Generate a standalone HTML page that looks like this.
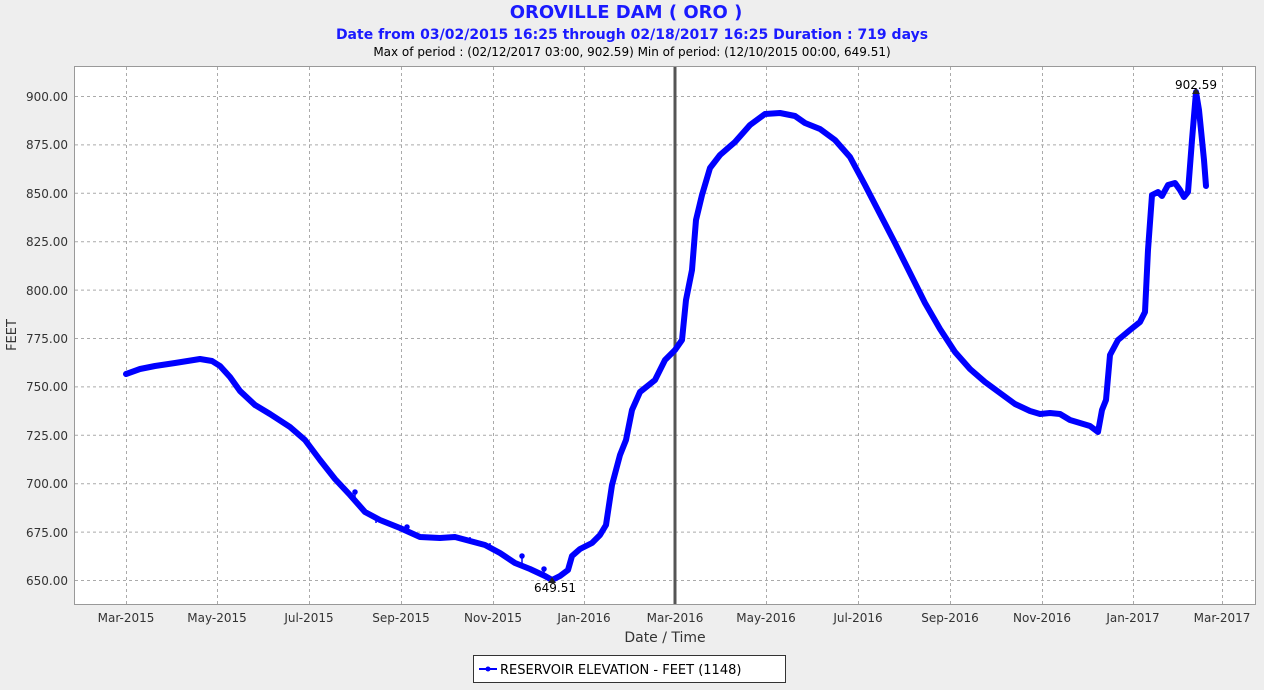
<!DOCTYPE html><html><head><style>body{margin:0;background:#eeeeee;font-family:"DejaVu Sans","Liberation Sans",sans-serif}</style></head><body>
<svg width="1264" height="686" xmlns="http://www.w3.org/2000/svg" font-family="DejaVu Sans, Liberation Sans, sans-serif">
<rect width="1264" height="686" fill="#eeeeee"/>
<text x="626" y="18" text-anchor="middle" font-size="18" font-weight="bold" fill="#1a1aff">OROVILLE DAM ( ORO )</text>
<text x="632" y="39" text-anchor="middle" font-size="14" font-weight="bold" fill="#1a1aff">Date from 03/02/2015 16:25 through 02/18/2017 16:25 Duration : 719 days</text>
<text x="632" y="56" text-anchor="middle" font-size="12" fill="#000">Max of period : (02/12/2017 03:00, 902.59)  Min of period: (12/10/2015 00:00,  649.51)</text>
<rect x="74.5" y="66.5" width="1181" height="538" fill="#fff" stroke="#999"/>
<g stroke="#aaa" stroke-dasharray="3,3" stroke-width="1">
<line x1="75" x2="1255" y1="96.5" y2="96.5"/><line x1="75" x2="1255" y1="144.9" y2="144.9"/><line x1="75" x2="1255" y1="193.3" y2="193.3"/><line x1="75" x2="1255" y1="241.7" y2="241.7"/><line x1="75" x2="1255" y1="290.1" y2="290.1"/><line x1="75" x2="1255" y1="338.5" y2="338.5"/><line x1="75" x2="1255" y1="386.9" y2="386.9"/><line x1="75" x2="1255" y1="435.3" y2="435.3"/><line x1="75" x2="1255" y1="483.7" y2="483.7"/><line x1="75" x2="1255" y1="532.1" y2="532.1"/><line x1="75" x2="1255" y1="580.5" y2="580.5"/>
<line y1="67" y2="604" x1="126.5" x2="126.5"/><line y1="67" y2="604" x1="217.5" x2="217.5"/><line y1="67" y2="604" x1="309.5" x2="309.5"/><line y1="67" y2="604" x1="401.5" x2="401.5"/><line y1="67" y2="604" x1="493.5" x2="493.5"/><line y1="67" y2="604" x1="584.5" x2="584.5"/><line y1="67" y2="604" x1="766.5" x2="766.5"/><line y1="67" y2="604" x1="858.5" x2="858.5"/><line y1="67" y2="604" x1="950.5" x2="950.5"/><line y1="67" y2="604" x1="1042.5" x2="1042.5"/><line y1="67" y2="604" x1="1133.5" x2="1133.5"/><line y1="67" y2="604" x1="1222.5" x2="1222.5"/>
</g>
<line x1="675" x2="675" y1="67" y2="604" stroke="#555" stroke-width="3"/>
<g font-size="12" fill="#333" text-anchor="end">
<text x="68" y="101">900.00</text><text x="68" y="149">875.00</text><text x="68" y="198">850.00</text><text x="68" y="246">825.00</text><text x="68" y="295">800.00</text><text x="68" y="343">775.00</text><text x="68" y="391">750.00</text><text x="68" y="440">725.00</text><text x="68" y="488">700.00</text><text x="68" y="537">675.00</text><text x="68" y="585">650.00</text>
</g>
<g font-size="12" fill="#333" text-anchor="middle">
<text x="126" y="622">Mar-2015</text><text x="217" y="622">May-2015</text><text x="309" y="622">Jul-2015</text><text x="401" y="622">Sep-2015</text><text x="493" y="622">Nov-2015</text><text x="584" y="622">Jan-2016</text><text x="675" y="622">Mar-2016</text><text x="766" y="622">May-2016</text><text x="858" y="622">Jul-2016</text><text x="950" y="622">Sep-2016</text><text x="1042" y="622">Nov-2016</text><text x="1133" y="622">Jan-2017</text><text x="1222" y="622">Mar-2017</text>
</g>
<text x="665" y="642" text-anchor="middle" font-size="14" fill="#333">Date / Time</text>
<text transform="translate(16,335) rotate(-90)" text-anchor="middle" font-size="13" fill="#333">FEET</text>
<polyline fill="none" stroke="#0000ff" stroke-width="6" stroke-linejoin="round" stroke-linecap="round" points="126,374 140,369 155,366 175,363 200,359 212,361 220,366 230,377 240,391 255,405 270,414 290,427 305,440 320,460 335,479 350,495 365,512 380,520 400,528 420,537 440,538 455,537 470,541 485,545 500,553 515,563 530,569 545,576 552,580 560,576 568,570 572,556 580,549 592,543 600,535 606,525 612,485 620,455 626,440 632,410 640,392 655,380 665,360 675,350 682,340 686,300 692,270 696,220 702,195 710,168 720,155 735,142 750,125 765,114 780,113 795,116 805,123 820,129 835,140 850,157 865,185 880,214 895,243 910,273 925,303 940,329 955,352 970,369 985,382 1000,393 1015,404 1030,411 1040,414 1050,413 1060,414 1070,420 1080,423 1090,426 1098,432 1102,410 1106,400 1110,355 1118,340 1130,330 1140,322 1145,312 1148,250 1152,195 1158,192 1162,196 1168,185 1175,183 1180,190 1184,197 1188,192 1192,140 1196,92 1199,110 1204,160 1206,186"/>
<g stroke="#0000ff" stroke-width="1.5" fill="#0000ff"><line x1="355" y1="492" x2="355" y2="500"/><circle cx="355" cy="492" r="2"/><line x1="376" y1="518" x2="376" y2="523"/><circle cx="376" cy="518" r="2"/><line x1="407" y1="527" x2="407" y2="532"/><circle cx="407" cy="527" r="2"/><line x1="470" y1="537" x2="470" y2="541"/><line x1="490" y1="543" x2="490" y2="547"/><line x1="522" y1="556" x2="522" y2="565"/><circle cx="522" cy="556" r="2"/><line x1="544" y1="569" x2="544" y2="576"/><circle cx="544" cy="569" r="2"/></g>
<path d="M548,583 l4,-6 l4,6z M1192,94 l4,-6 l4,6z" fill="#222"/>
<text x="555" y="592" text-anchor="middle" font-size="12" fill="#000">649.51</text>
<text x="1196" y="89" text-anchor="middle" font-size="12" fill="#000">902.59</text>
<rect x="473.5" y="655.5" width="312" height="27" fill="#fff" stroke="#333"/>
<line x1="479" x2="497" y1="669" y2="669" stroke="#0000ff" stroke-width="2"/><circle cx="488" cy="669" r="2.5" fill="#0000ff"/>
<text x="500" y="674" font-size="13" fill="#000">RESERVOIR ELEVATION - FEET (1148)</text>
</svg></body></html>
